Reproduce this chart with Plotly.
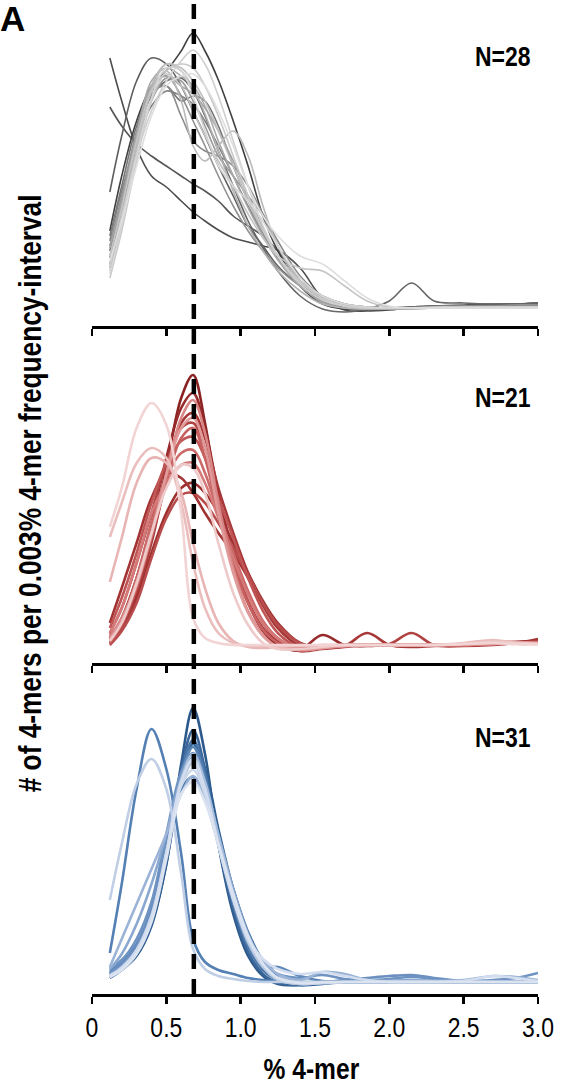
import plotly.graph_objects as go

# ---------------- data ----------------
# % 4-mer positions at which each density curve is sampled
X = [0.12, 0.2, 0.3, 0.4, 0.5, 0.6, 0.68, 0.76, 0.85, 0.95, 1.05, 1.15,
     1.25, 1.4, 1.55, 1.7, 1.85, 2.0, 2.15, 2.3, 2.5, 2.7, 2.85, 3.0]

# density (arbitrary units) - grey panel, N=28
grey_curves = [
    [268, 225, 178, 150, 139, 125, 114, 105, 96, 88, 84, 80, 76, 58, 28, 16, 15, 16, 18, 19, 20, 21, 22, 23],
    [219, 200, 182, 170, 160, 150, 142, 135, 125, 110, 100, 90, 75, 45, 25, 18, 16, 17, 19, 20, 21, 22, 22, 23],
    [95, 150, 205, 240, 255, 275, 293, 275, 246, 205, 160, 110, 75, 40, 22, 17, 17, 18, 19, 20, 20, 20, 21, 22],
    [134, 190, 245, 268, 262, 240, 215, 190, 160, 130, 100, 80, 60, 40, 25, 18, 17, 17, 18, 19, 20, 21, 22, 22],
    [75, 125, 190, 230, 245, 248, 235, 210, 175, 140, 105, 78, 55, 30, 17, 14, 17, 25, 43, 25, 23, 22, 22, 23],
    [90, 140, 200, 235, 240, 225, 230, 225, 200, 160, 125, 95, 70, 45, 30, 22, 19, 18, 19, 20, 20, 20, 21, 21],
    [85, 135, 185, 220, 235, 230, 222, 205, 180, 150, 120, 92, 68, 42, 27, 20, 18, 18, 18, 19, 19, 20, 20, 20],
    [68, 115, 185, 232, 240, 210, 185, 175, 170, 160, 140, 112, 85, 50, 30, 22, 19, 18, 18, 19, 19, 19, 20, 20],
    [80, 130, 195, 240, 250, 230, 205, 180, 150, 120, 95, 75, 58, 40, 28, 20, 18, 18, 18, 19, 20, 20, 21, 21],
    [62, 110, 175, 225, 248, 245, 225, 200, 170, 150, 130, 110, 80, 45, 26, 19, 17, 17, 17, 18, 18, 18, 19, 19],
    [78, 125, 190, 238, 250, 240, 232, 218, 195, 165, 130, 98, 70, 40, 24, 18, 17, 17, 18, 18, 19, 19, 19, 19],
    [70, 120, 190, 245, 258, 250, 240, 220, 185, 150, 118, 90, 66, 40, 26, 20, 18, 18, 18, 18, 19, 19, 19, 19],
    [58, 105, 180, 240, 262, 255, 238, 212, 175, 135, 100, 75, 55, 35, 22, 18, 17, 17, 17, 18, 18, 18, 18, 18],
    [60, 105, 175, 235, 255, 225, 180, 165, 180, 195, 170, 120, 80, 45, 28, 20, 18, 18, 18, 18, 18, 18, 18, 18],
    [55, 100, 175, 235, 262, 258, 245, 225, 195, 160, 125, 95, 70, 45, 30, 22, 19, 18, 18, 18, 19, 19, 19, 19],
    [70, 118, 185, 235, 252, 240, 215, 190, 165, 140, 112, 88, 70, 58, 55, 40, 25, 19, 18, 18, 18, 18, 18, 18],
    [48, 95, 165, 225, 255, 262, 258, 240, 210, 170, 130, 96, 70, 44, 28, 20, 18, 18, 18, 18, 18, 19, 19, 19],
    [60, 110, 170, 215, 245, 265, 276, 262, 230, 185, 140, 100, 70, 42, 26, 20, 18, 18, 18, 19, 19, 19, 19, 19],
    [52, 100, 170, 228, 258, 255, 230, 195, 160, 140, 125, 105, 80, 48, 30, 22, 19, 18, 18, 18, 18, 18, 18, 18],
    [65, 105, 160, 210, 240, 250, 252, 240, 215, 180, 140, 110, 90, 70, 62, 45, 28, 20, 18, 18, 18, 18, 18, 18],
]
grey_colors = ["#4d4d4d", "#555555", "#3f3f3f", "#5e5e5e", "#666666", "#757575",
               "#808080", "#8a8a8a", "#929292", "#9a9a9a", "#a3a3a3", "#aaaaaa",
               "#b2b2b2", "#b9b9b9", "#bfbfbf", "#c4c4c4", "#c9c9c9", "#cfcfcf",
               "#d6d6d6", "#dedede"]

# density (arbitrary units) - red panel, N=21
red_curves = [
    [28, 40, 72, 125, 195, 265, 288, 240, 160, 100, 60, 32, 18, 12, 15, 18, 18, 18, 18, 18, 19, 20, 21, 22],
    [25, 45, 85, 140, 205, 255, 270, 235, 170, 110, 70, 40, 22, 14, 28, 18, 17, 18, 18, 18, 19, 20, 21, 22],
    [20, 35, 65, 110, 150, 175, 180, 170, 150, 120, 90, 62, 40, 20, 15, 17, 18, 18, 18, 18, 18, 19, 20, 21],
    [40, 75, 120, 165, 190, 185, 170, 150, 130, 110, 85, 58, 35, 17, 15, 17, 18, 18, 18, 18, 18, 19, 20, 24],
    [22, 35, 70, 120, 185, 240, 250, 225, 175, 130, 90, 58, 35, 17, 15, 17, 30, 18, 16, 17, 18, 19, 20, 21],
    [30, 55, 100, 150, 200, 235, 240, 215, 160, 105, 62, 35, 20, 12, 14, 16, 18, 19, 30, 18, 17, 18, 20, 22],
    [18, 32, 60, 105, 145, 168, 170, 160, 140, 115, 88, 60, 38, 20, 15, 17, 18, 18, 18, 18, 18, 19, 20, 21],
    [35, 65, 110, 160, 200, 222, 226, 205, 165, 125, 85, 52, 30, 15, 16, 18, 18, 18, 18, 18, 18, 19, 20, 20],
    [20, 38, 75, 125, 180, 225, 235, 205, 150, 98, 60, 33, 20, 13, 15, 17, 18, 18, 18, 18, 18, 19, 20, 21],
    [24, 42, 85, 140, 185, 210, 213, 190, 150, 110, 72, 42, 25, 14, 15, 17, 18, 18, 18, 18, 18, 19, 20, 20],
    [30, 55, 100, 150, 180, 198, 200, 180, 145, 105, 68, 40, 24, 14, 15, 17, 18, 18, 18, 18, 18, 19, 20, 20],
    [26, 45, 80, 130, 190, 245, 263, 230, 160, 95, 52, 28, 16, 13, 15, 17, 18, 18, 18, 18, 18, 19, 20, 20],
    [24, 42, 78, 128, 188, 235, 245, 215, 150, 90, 50, 27, 16, 13, 15, 17, 18, 18, 18, 18, 19, 22, 21, 20],
    [81, 125, 180, 205, 200, 170, 120, 75, 40, 22, 16, 15, 16, 17, 18, 18, 18, 18, 18, 18, 19, 20, 19, 19],
    [126, 160, 200, 215, 205, 160, 100, 55, 30, 20, 17, 17, 17, 17, 18, 18, 18, 18, 18, 18, 20, 23, 20, 19],
    [22, 40, 80, 130, 175, 198, 195, 170, 120, 70, 38, 20, 14, 14, 16, 18, 18, 18, 18, 18, 19, 21, 20, 19],
    [136, 175, 235, 260, 238, 150, 45, 25, 20, 18, 18, 18, 18, 18, 18, 18, 18, 18, 18, 18, 19, 20, 19, 19],
]
red_colors = ["#8b2323", "#972b2b", "#9e3030", "#a33333", "#a83838", "#b04242",
              "#b84c4c", "#c05555", "#c86060", "#cc6a6a", "#d47878", "#d98686",
              "#e09a9a", "#e8b4b4", "#ebbebe", "#efcaca", "#f2d4d4"]

# density (arbitrary units) - blue panel, N=31
blue_curves = [
    [18, 25, 40, 70, 130, 230, 286, 240, 150, 80, 38, 18, 10, 9, 11, 12, 12, 12, 12, 12, 12, 12, 12, 12],
    [16, 24, 38, 68, 130, 215, 250, 225, 165, 105, 60, 30, 15, 9, 10, 12, 12, 12, 12, 12, 12, 12, 12, 12],
    [20, 28, 45, 78, 140, 225, 264, 225, 150, 85, 42, 20, 11, 9, 11, 12, 12, 13, 13, 12, 12, 12, 12, 12],
    [20, 28, 46, 82, 145, 205, 217, 198, 155, 105, 62, 33, 17, 10, 11, 12, 12, 12, 12, 12, 12, 12, 12, 12],
    [22, 30, 48, 82, 145, 222, 254, 220, 150, 90, 47, 24, 14, 10, 11, 12, 12, 12, 12, 12, 12, 12, 12, 12],
    [41, 110, 205, 265, 225, 140, 55, 32, 24, 20, 16, 14, 13, 12, 12, 12, 12, 12, 12, 12, 12, 12, 12, 12],
    [24, 32, 50, 85, 150, 220, 247, 215, 155, 95, 52, 27, 27, 18, 13, 12, 12, 12, 12, 12, 12, 12, 12, 12],
    [22, 30, 48, 84, 148, 215, 236, 208, 152, 96, 52, 27, 14, 11, 12, 14, 16, 18, 19, 16, 13, 12, 12, 12],
    [26, 34, 55, 92, 160, 222, 241, 210, 150, 92, 50, 28, 20, 16, 19, 15, 14, 15, 17, 15, 13, 14, 16, 21],
    [25, 40, 70, 110, 160, 215, 235, 210, 160, 105, 60, 30, 16, 11, 12, 12, 12, 13, 14, 13, 12, 12, 12, 12],
    [27, 55, 90, 125, 160, 200, 218, 195, 150, 100, 58, 34, 20, 14, 22, 20, 14, 13, 13, 13, 14, 18, 17, 14],
    [19, 27, 44, 78, 140, 215, 240, 212, 158, 100, 55, 28, 15, 10, 11, 12, 12, 12, 12, 12, 12, 12, 12, 12],
    [17, 25, 42, 75, 140, 210, 231, 205, 150, 95, 52, 27, 14, 10, 11, 12, 12, 12, 12, 12, 12, 12, 12, 12],
    [94, 150, 210, 235, 205, 120, 45, 25, 18, 15, 13, 12, 12, 12, 12, 12, 12, 12, 12, 12, 12, 12, 12, 12],
    [18, 26, 44, 78, 142, 208, 224, 200, 148, 95, 55, 30, 16, 11, 11, 12, 12, 12, 12, 12, 12, 12, 12, 12],
    [18, 26, 42, 76, 140, 212, 235, 205, 150, 95, 55, 35, 25, 20, 22, 18, 14, 12, 12, 12, 13, 18, 16, 13],
    [17, 24, 40, 72, 135, 200, 212, 192, 150, 100, 58, 30, 16, 11, 12, 12, 12, 12, 12, 12, 12, 12, 12, 12],
]
blue_colors = ["#2d5a8c", "#2f5e92", "#3a6699", "#3f6ea3", "#4a76a8", "#5580b4",
               "#5d86b8", "#6b8fc0", "#6e93c2", "#8aa8d0", "#9bb3d6", "#a8bedd",
               "#b8c8e0", "#c0cfe5", "#ccd8ea", "#d2ddef", "#dbe3f0"]

panel_labels = ["N=28", "N=21", "N=31"]
x_ticks = [0, 0.5, 1.0, 1.5, 2.0, 2.5, 3.0]
x_tick_text = ["0", "0.5", "1.0", "1.5", "2.0", "2.5", "3.0"]
ref_line_x = 0.685

# ---------------- figure ----------------
W, H = 561, 1091
ML, MR, MT, MB = 92, 23, 0, 97
PW, PH = W - ML - MR, H - MT - MB

def px_x(p):
    return (p - ML) / PW

def px_y(p):
    return (PH - (p - MT)) / PH

FONT = "Liberation Sans, Arial"

fig = go.Figure()

panels = [
    (grey_curves, grey_colors, "x3", "y3", 1.6),
    (red_curves, red_colors, "x2", "y2", 2.6),
    (blue_curves, blue_colors, "x", "y", 2.6),
]
for curves, colors, xa, ya, lw in panels:
    for vals, col in zip(curves, colors):
        fig.add_trace(go.Scatter(
            x=X, y=vals, mode="lines", xaxis=xa, yaxis=ya,
            line=dict(color=col, width=lw, shape="spline", smoothing=1.0),
            showlegend=False, hoverinfo="skip"))

axis_common = dict(range=[0, 3], showline=True, linecolor="black", linewidth=2.5,
                   ticks="outside", ticklen=7, tickwidth=2.5, tickcolor="black",
                   tickvals=x_ticks, showgrid=False, zeroline=False)

fig.update_layout(
    width=W, height=H,
    margin=dict(l=ML, r=MR, t=MT, b=MB, pad=0),
    paper_bgcolor="white", plot_bgcolor="white",
    xaxis=dict(anchor="y", ticktext=x_tick_text, showticklabels=True,
               tickfont=dict(family=FONT, size=28, color="black"), **axis_common),
    xaxis2=dict(anchor="y2", showticklabels=False, **axis_common),
    xaxis3=dict(anchor="y3", showticklabels=False, **axis_common),
    yaxis=dict(domain=[0, px_y(680)], range=[0, 314], visible=False),
    yaxis2=dict(domain=[px_y(663), px_y(340)], range=[0, 323], visible=False),
    yaxis3=dict(domain=[px_y(326), 1.0], range=[0, 326], visible=False),
)

fig.add_shape(type="line", xref="x", yref="paper", x0=ref_line_x, x1=ref_line_x,
              y0=0, y1=1.0, line=dict(color="black", width=4.5, dash="15px,10px"),
              layer="above")

ann = []
for lab, ycen in zip(panel_labels, [56, 397, 737]):
    ann.append(dict(text=f"<b>{lab}</b>", xref="paper", yref="paper",
                    x=px_x(473), y=px_y(ycen), xanchor="left", yanchor="middle",
                    showarrow=False, font=dict(family=FONT, size=28, color="black")))
ann.append(dict(text="<b>A</b>", xref="paper", yref="paper", x=px_x(-2), y=px_y(19),
                xanchor="left", yanchor="middle", showarrow=False,
                font=dict(family=FONT, size=35, color="black")))
ann.append(dict(text="<b>% 4-mer</b>", xref="paper", yref="paper", x=px_x(311),
                y=px_y(1068), xanchor="center", yanchor="middle", showarrow=False,
                font=dict(family=FONT, size=30, color="black")))
ann.append(dict(text="<b># of 4-mers per 0.003% 4-mer frequency-interval</b>",
                xref="paper", yref="paper", x=px_x(30), y=px_y(494), textangle=-90,
                xanchor="center", yanchor="middle", showarrow=False,
                font=dict(family=FONT, size=32, color="black")))
fig.update_layout(annotations=ann)

# remove default page margin and render condensed (Arial-Narrow-like) text
post_js = """
document.body.style.margin='0';
var gd=document.querySelector('.js-plotly-plot');
function narrow(t,k,anchor){
  var b=t.getBBox();
  var cx = anchor==='start' ? b.x : b.x+b.width/2;
  var prev=t.getAttribute('transform')||'';
  t.setAttribute('transform', prev+' translate('+cx+',0) scale('+k+',1) translate('+(-cx)+',0)');
}
gd.querySelectorAll('.xtick text').forEach(function(t){narrow(t,0.82,'middle');});
gd.querySelectorAll('.annotation-text').forEach(function(t){
  var s=t.textContent;
  if(s==='A') return;
  narrow(t,0.82, s.indexOf('N=')===0 ? 'start' : 'middle');
});
"""

fig.write_html("out.html", post_script=post_js,
               config={"displayModeBar": False, "staticPlot": True})
